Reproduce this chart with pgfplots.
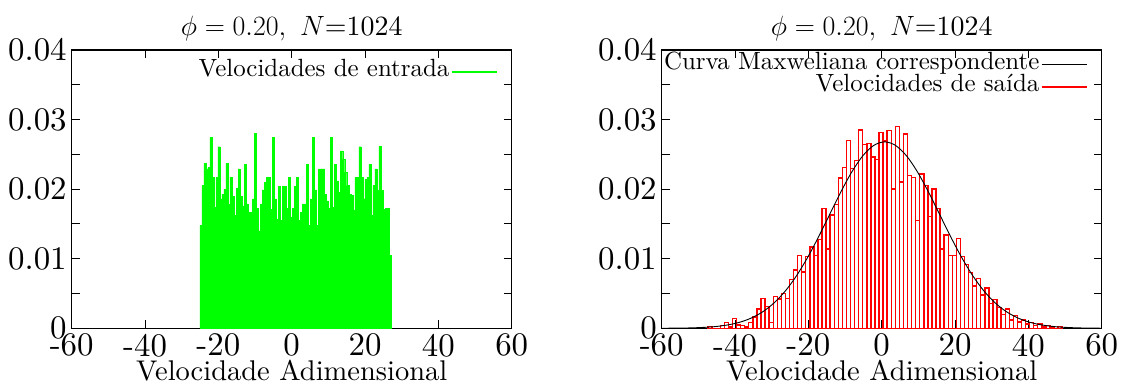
\RequirePackage{fix-cm}
\documentclass[border=0pt]{standalone}
\usepackage{fontspec}
\setmainfont{lmroman10-regular}[Extension=.otf]
\usepackage{pgfplots}
\pgfplotsset{compat=1.18}
\definecolor{hgreen}{RGB}{0,255,0}
\definecolor{hred}{RGB}{255,0,0}
\newcommand{\tickfont}{\fontsize{33}{37}\selectfont}
\newcommand{\labfont}{\fontsize{28.6}{33}\selectfont}
\newcommand{\titfont}{\fontsize{28}{32}\selectfont}
\newcommand{\legfont}{\fontsize{25}{29}\selectfont}
\pgfplotsset{
 myax/.style={
  scale only axis, width=440bp, height=278.3bp, anchor=south west,
  xmin=-60, xmax=60, ymin=0, ymax=0.04,
  xtick={-60,-40,-20,0,20,40,60}, xticklabels={-60,-40,-20,0,20,40,60},
  ytick={0,0.01,0.02,0.03,0.04}, yticklabels={0,0.01,0.02,0.03,0.04},
  minor ytick={0.005,0.015,0.025,0.035},
  scaled ticks=false,
  tick align=inside, major tick length=8bp, minor tick length=8bp,
  every tick/.style={black, line width=0.9bp},
  axis line style={line width=1.2bp},
  xticklabel style={font=\tickfont, yshift=-2bp},
  yticklabel style={font=\tickfont, xshift=-1.5bp},
  xlabel style={font=\labfont, yshift=4bp},
  title style={font=\titfont},
  xlabel={Velocidade Adimensional},
  title={$\phi = 0.20,\ N$=1024},
  legend plot pos=right, legend cell align=right,
  legend style={draw=none, fill=none, font=\legfont, at={(1,1)}, anchor=north east, xshift=-14bp, yshift=-4bp, row sep=1.2bp, inner sep=0pt,
    nodes={inner sep=1.5bp, text height=14bp, text depth=4bp}},
  legend image code/.code={\draw[#1] (9bp,0bp) -- (54bp,0bp);},
 }
}
\begin{document}
\begin{tikzpicture}
\path[use as bounding box] (0bp,0bp) rectangle (1130bp,385bp);
\begin{axis}[myax, at={(71.7bp,56.7bp)}, legend style={yshift=-7bp}]
\addlegendimage{color=hgreen, line width=1.6bp}
\addlegendentry{Velocidades de entrada}
\addplot[ybar interval, fill=hgreen, draw=hgreen, line width=0.4bp, forget plot] coordinates {
(-25.07,0.0148) (-24.52,0.0205) (-23.97,0.0237) (-23.42,0.0229) (-22.87,0.0231) (-22.33,0.0274) (-21.78,0.0217) (-21.23,0.0174) (-20.68,0.0217) (-20.13,0.0261)
(-19.58,0.0186) (-19.03,0.0193) (-18.48,0.0200) (-17.93,0.0237) (-17.38,0.0178) (-16.84,0.0217) (-16.29,0.0190) (-15.74,0.0162) (-15.19,0.0202) (-14.64,0.0229)
(-14.09,0.0190) (-13.54,0.0176) (-12.99,0.0236)
(-12.44,0.0179) (-11.89,0.0167) (-11.35,0.0167) (-10.80,0.0186) (-10.25,0.0280) (-9.70,0.0172) (-9.15,0.0140) (-8.60,0.0179) (-8.05,0.0199) (-7.50,0.0210)
(-6.95,0.0217) (-6.40,0.0217) (-5.86,0.0171) (-5.31,0.0274) (-4.76,0.0186) (-4.21,0.0157) (-3.66,0.0204) (-3.11,0.0155) (-2.56,0.0204) (-2.01,0.0204)
(-1.46,0.0172) (-0.91,0.0217) (-0.37,0.0160) (0.18,0.0172)
(0.73,0.0204) (1.28,0.0217) (1.83,0.0155) (2.38,0.0167) (2.93,0.0179) (3.48,0.0179) (4.03,0.0236) (4.58,0.0148) (5.12,0.0186) (5.67,0.0274)
(6.22,0.0199) (6.77,0.0148) (7.32,0.0229) (7.87,0.0229) (8.42,0.0229) (8.97,0.0193) (9.52,0.0183) (10.07,0.0172) (10.62,0.0274) (11.16,0.0174)
(11.71,0.0236) (12.26,0.0212) (12.81,0.0195) (13.36,0.0255)
(13.91,0.0243) (14.46,0.0224) (15.01,0.0205) (15.56,0.0193) (16.11,0.0191) (16.65,0.0170) (17.20,0.0217) (17.75,0.0217) (18.30,0.0261) (18.85,0.0217)
(19.40,0.0186) (19.95,0.0214) (20.50,0.0217) (21.05,0.0236) (21.60,0.0162) (22.14,0.0205) (22.69,0.0229) (23.24,0.0198) (23.79,0.0262) (24.34,0.0198)
(24.89,0.0171) (25.44,0.0172) (25.99,0.0172) (26.54,0.0105) (27.09,0.0105)
};
\end{axis}
\begin{axis}[myax, at={(661.7bp,56.7bp)}]
\addlegendimage{color=black, line width=1.1bp}
\addlegendentry{Curva Maxweliana correspondente}
\addlegendimage{color=hred, line width=1.6bp}
\addlegendentry{Velocidades de saída}
\addplot[ybar interval, fill=none, draw=hred, line width=1.4bp, forget plot] coordinates {
(-47.35,0.0003) (-46.24,0) (-45.13,0) (-44.02,0.0004) (-42.91,0.0008) (-41.80,0.0002) (-40.69,0.0014) (-39.58,0.0005) (-38.47,0.0004) (-37.36,0.0002)
(-36.25,0.0008) (-35.14,0.0016) (-34.03,0.0028) (-32.92,0.0043) (-31.81,0.0031) (-30.70,0.0008) (-29.59,0.0046) (-28.48,0.0042) (-27.37,0.0050) (-26.26,0.0043)
(-25.15,0.0070) (-24.04,0.0084) (-22.93,0.0105) (-21.82,0.0081) (-20.71,0.0103) (-19.60,0.0117) (-18.49,0.0105) (-17.38,0.0128) (-16.27,0.0172) (-15.16,0.0114)
(-14.05,0.0163) (-12.94,0.0178) (-11.83,0.0216) (-10.72,0.0231) (-9.61,0.0270) (-8.50,0.0230) (-7.39,0.0241) (-6.28,0.0285) (-5.17,0.0264) (-4.06,0.0266)
(-2.95,0.0246) (-1.84,0.0243) (-0.73,0.0281) (0.38,0.0269) (1.49,0.0284) (2.60,0.0200) (3.71,0.0290) (4.82,0.0210) (5.93,0.0279) (7.04,0.0220)
(8.15,0.0217) (9.26,0.0155) (10.37,0.0222) (11.48,0.0205) (12.59,0.0161) (13.70,0.0200) (14.81,0.0172) (15.92,0.0114) (17.03,0.0134) (18.14,0.0105)
(19.25,0.0105) (20.36,0.0129) (21.47,0.0103) (22.58,0.0092) (23.69,0.0080) (24.80,0.0061) (25.91,0.0072) (27.02,0.0048) (28.13,0.0058) (29.24,0.0036)
(30.35,0.0041) (31.46,0.0030) (32.57,0.0020) (33.68,0.0028) (34.79,0.0012) (35.90,0.0018) (37.01,0.0009) (38.12,0.0012) (39.23,0.0006) (40.34,0.0008)
(41.45,0.0004) (42.56,0.0006) (43.67,0.0002) (44.78,0.0004) (45.89,0.0002) (47.00,0) (48.11,0.0003) (49.22,0.0003)
};
\addplot[black, line width=0.9bp, smooth, forget plot] coordinates {
(-60,0.0000081) (-55.2,0.0000276) (-51.2,0.0000713) (-47.2,0.000171) (-44.2,0.000316) (-41.2,0.000560) (-38.2,0.000954) (-35.2,0.001563) (-32.2,0.002461) (-29.2,0.003724)
(-26.2,0.005418) (-23.2,0.007578) (-20.2,0.010189) (-17.2,0.013169) (-14.2,0.016362) (-11.2,0.019542) (-8.2,0.022438) (-5.2,0.024766) (-2.2,0.026276) (0.8,0.0268)
(3.8,0.026276) (6.8,0.024766) (9.8,0.022438) (12.8,0.019542) (15.8,0.016362) (18.8,0.013169) (21.8,0.010189) (24.8,0.007578) (27.8,0.005418) (30.8,0.003724)
(33.8,0.002461) (36.8,0.001563) (39.8,0.000954) (42.8,0.000560) (45.8,0.000316) (48.8,0.000171) (52.8,0.0000713) (56.8,0.0000276) (60,0.0000123)
};
\end{axis}
\end{tikzpicture}
\end{document}
